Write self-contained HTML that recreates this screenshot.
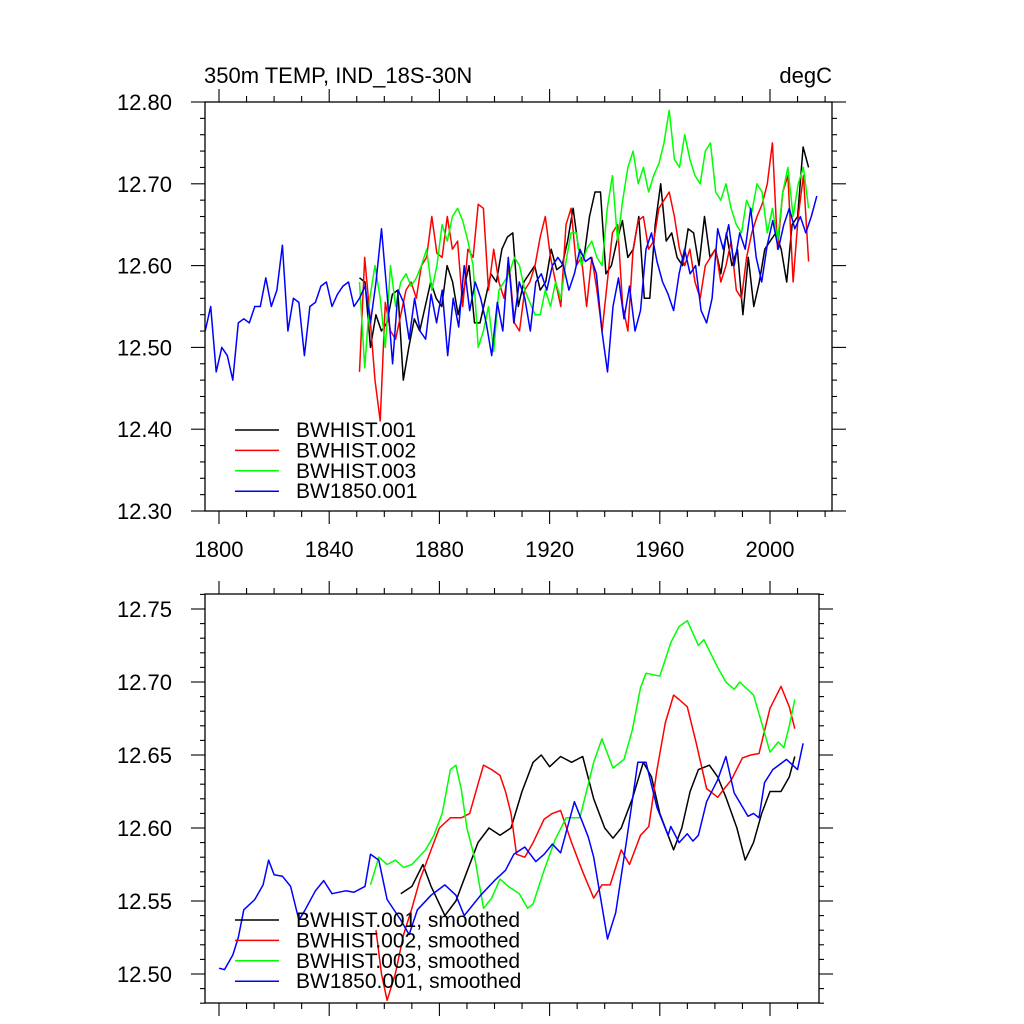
<!DOCTYPE html>
<html><head><meta charset="utf-8"><style>
body{margin:0;background:#fff}
svg{display:block;font-family:"Liberation Sans",Arial,sans-serif}
</style></head><body>
<svg id="chart" width="1024" height="1024" viewBox="0 0 1024 1024" xmlns="http://www.w3.org/2000/svg">
<text x="204" y="83" font-size="22">350m TEMP, IND_18S-30N</text>
<text x="832" y="83" font-size="22" text-anchor="end">degC</text>
</svg>
<script>
const NS='http://www.w3.org/2000/svg';
const svg=document.getElementById('chart');

const xTickYears=[1800,1840,1880,1920,1960,2000];
const topYTicks=[12.30,12.40,12.50,12.60,12.70,12.80];
const botYTicks=[12.50,12.55,12.60,12.65,12.70,12.75];
const seriesNames=['BWHIST.001','BWHIST.002','BWHIST.003','BW1850.001'];
const smoothNames=['BWHIST.001, smoothed','BWHIST.002, smoothed','BWHIST.003, smoothed','BW1850.001, smoothed'];
const colors=['#000000','#ff0000','#00ff00','#0000ff'];

const blueStart=1795, blueEnd=2017;
const blueAnnual=[12.52,12.55,12.47,12.50,12.49,12.46,12.53,12.535,12.53,12.55,12.55,12.585,12.55,12.57,12.625,12.52,12.56,12.555,12.49,12.55,12.555,12.575,12.58,12.55,12.565,12.575,12.58,12.55,12.56,12.575,12.53,12.58,12.645,12.565,12.48,12.57,12.555,12.51,12.56,12.52,12.51,12.565,12.53,12.57,12.49,12.56,12.525,12.60,12.545,12.58,12.56,12.53,12.49,12.555,12.52,12.61,12.53,12.58,12.56,12.52,12.58,12.59,12.57,12.60,12.61,12.60,12.57,12.59,12.62,12.605,12.61,12.59,12.52,12.47,12.55,12.585,12.535,12.575,12.52,12.545,12.62,12.64,12.605,12.58,12.565,12.545,12.59,12.62,12.59,12.60,12.545,12.53,12.56,12.645,12.62,12.65,12.60,12.64,12.62,12.67,12.61,12.58,12.625,12.655,12.62,12.65,12.67,12.645,12.66,12.64,12.66,12.685];
const blackStart=1851, blackEnd=2014;
const blackAnnual=[12.585,12.58,12.50,12.54,12.52,12.53,12.565,12.57,12.46,12.50,12.535,12.52,12.55,12.58,12.56,12.55,12.60,12.58,12.54,12.57,12.60,12.53,12.53,12.56,12.59,12.58,12.62,12.635,12.64,12.55,12.58,12.59,12.60,12.57,12.58,12.62,12.595,12.60,12.63,12.67,12.62,12.61,12.66,12.69,12.69,12.59,12.60,12.63,12.655,12.61,12.62,12.66,12.56,12.56,12.65,12.70,12.63,12.64,12.61,12.60,12.645,12.64,12.60,12.66,12.61,12.62,12.59,12.64,12.60,12.62,12.54,12.61,12.55,12.58,12.62,12.63,12.64,12.62,12.58,12.65,12.66,12.745,12.72];
const redStart=1851, redEnd=2014;
const redAnnual=[12.47,12.61,12.54,12.46,12.41,12.555,12.52,12.51,12.54,12.57,12.58,12.56,12.60,12.61,12.66,12.615,12.61,12.66,12.62,12.63,12.55,12.62,12.61,12.675,12.67,12.57,12.62,12.58,12.56,12.60,12.53,12.52,12.57,12.58,12.60,12.635,12.66,12.61,12.58,12.55,12.65,12.67,12.60,12.61,12.55,12.61,12.57,12.52,12.58,12.64,12.65,12.55,12.52,12.62,12.655,12.66,12.62,12.63,12.67,12.68,12.69,12.66,12.62,12.60,12.62,12.58,12.56,12.60,12.61,12.62,12.58,12.60,12.63,12.57,12.56,12.61,12.64,12.66,12.675,12.70,12.75,12.62,12.69,12.71,12.58,12.66,12.71,12.605];
const greenStart=1851, greenEnd=2014;
const greenAnnual=[12.58,12.475,12.56,12.60,12.56,12.50,12.60,12.55,12.58,12.59,12.575,12.585,12.60,12.62,12.57,12.60,12.65,12.63,12.66,12.67,12.655,12.63,12.60,12.50,12.52,12.55,12.495,12.57,12.58,12.59,12.61,12.60,12.57,12.555,12.54,12.54,12.57,12.55,12.58,12.56,12.605,12.64,12.64,12.60,12.62,12.63,12.61,12.60,12.67,12.71,12.63,12.68,12.72,12.74,12.70,12.72,12.69,12.71,12.725,12.75,12.79,12.73,12.72,12.76,12.73,12.71,12.70,12.74,12.75,12.69,12.68,12.70,12.67,12.65,12.64,12.68,12.665,12.70,12.69,12.64,12.67,12.63,12.69,12.72,12.66,12.70,12.72,12.67];

const blackSmYears=[1866,1870,1874,1877,1882,1886,1890,1894,1898,1902,1906,1910,1914,1917,1920,1924,1928,1932,1936,1940,1943,1946,1950,1954,1957,1960,1963,1965,1968,1971,1974,1978,1981,1984,1988,1991,1994,1997,2000,2004,2007,2009];
const blackSm=[12.555,12.56,12.575,12.56,12.54,12.55,12.57,12.59,12.60,12.595,12.60,12.625,12.645,12.65,12.642,12.649,12.645,12.649,12.62,12.60,12.593,12.60,12.62,12.645,12.635,12.61,12.595,12.585,12.60,12.625,12.64,12.643,12.635,12.621,12.60,12.578,12.59,12.61,12.625,12.625,12.635,12.649];
const redSmYears=[1857,1859,1861,1864,1867,1870,1873,1877,1880,1884,1888,1891,1894,1896,1899,1902,1904,1906,1908,1911,1914,1918,1921,1924,1928,1932,1936,1939,1942,1946,1949,1953,1956,1959,1962,1965,1967,1970,1973,1977,1981,1983,1986,1990,1993,1996,2000,2004,2007,2009];
const redSm=[12.53,12.50,12.482,12.50,12.527,12.545,12.565,12.585,12.60,12.607,12.607,12.61,12.63,12.643,12.64,12.636,12.625,12.61,12.582,12.58,12.59,12.606,12.61,12.612,12.59,12.57,12.552,12.561,12.561,12.585,12.575,12.595,12.601,12.64,12.672,12.691,12.688,12.683,12.66,12.627,12.621,12.626,12.633,12.648,12.65,12.651,12.682,12.697,12.683,12.668];
const greenSmYears=[1855,1858,1861,1864,1867,1870,1875,1878,1881,1884,1886,1888,1890,1893,1896,1899,1902,1905,1909,1912,1914,1918,1922,1926,1931,1936,1939,1943,1947,1950,1953,1955,1960,1964,1967,1970,1974,1976,1981,1984,1987,1989,1994,1997,2000,2003,2005,2007,2009];
const greenSm=[12.561,12.58,12.575,12.578,12.573,12.575,12.585,12.595,12.61,12.64,12.643,12.626,12.60,12.578,12.545,12.552,12.565,12.56,12.555,12.545,12.548,12.571,12.592,12.607,12.607,12.645,12.661,12.641,12.647,12.667,12.696,12.706,12.704,12.727,12.738,12.742,12.725,12.729,12.71,12.70,12.695,12.70,12.691,12.672,12.652,12.659,12.655,12.67,12.688];
const blueSmYears=[1800,1802,1805,1807,1809,1813,1816,1818,1820,1823,1826,1829,1831,1835,1838,1841,1846,1849,1853,1855,1858,1861,1866,1869,1872,1877,1882,1886,1889,1895,1900,1904,1907,1911,1915,1918,1921,1924,1929,1934,1936,1941,1944,1948,1952,1955,1959,1963,1964,1967,1970,1972,1974,1977,1981,1984,1987,1992,1994,1996,1998,2001,2006,2010,2012];
const blueSm=[12.504,12.503,12.513,12.525,12.544,12.551,12.561,12.578,12.568,12.567,12.56,12.537,12.543,12.557,12.564,12.555,12.557,12.556,12.56,12.582,12.578,12.551,12.537,12.527,12.544,12.554,12.561,12.554,12.54,12.554,12.564,12.571,12.582,12.587,12.577,12.582,12.589,12.583,12.618,12.594,12.58,12.524,12.542,12.592,12.645,12.645,12.614,12.595,12.601,12.59,12.596,12.591,12.595,12.618,12.633,12.649,12.624,12.608,12.61,12.607,12.631,12.64,12.647,12.64,12.658];

function el(tag,attrs,parent){const e=document.createElementNS(NS,tag);for(const k in attrs)e.setAttribute(k,attrs[k]);(parent||svg).appendChild(e);return e;}

function panel(cfg){
  const g=el('g',{});
  
  
  const X=yr=>219+(yr-1800)*2.755;
  const Y=v=>cfg.y0+(v-cfg.v0)*(cfg.y1-cfg.y0)/(cfg.v1-cfg.v0);
  const defs=el('defs',{},g);
  const cp=el('clipPath',{id:cfg.name+'-clip'},defs);
  el('rect',{x:cfg.L,y:cfg.T,width:cfg.R-cfg.L,height:cfg.B-cfg.T},cp);
  cfg.series.forEach((s,i)=>{
    const pts=s.vals.map((v,j)=>X(s.years?s.years[j]:s.start+j*(s.end-s.start)/(s.vals.length-1)).toFixed(1)+','+Y(v).toFixed(1)).join(' ');
    const p=el('polyline',{points:pts,fill:'none',stroke:colors[i],'stroke-width':1.5,'stroke-linejoin':'round','clip-path':'url(#'+cfg.name+'-clip)'},g);
    
    
  });
  const fr=el('rect',{x:cfg.L,y:cfg.T,width:cfg.R-cfg.L,height:cfg.B-cfg.T,fill:'none',stroke:'#000','stroke-width':1.3},g);
  
  
  for(let yr=1790;yr<=2030;yr+=10){
    const x=X(yr); if(x<cfg.L-0.5||x>cfg.R+0.5) continue;
    const major=yr%40===0; const len=major?13:6;
    el('line',{x1:x,y1:cfg.B,x2:x,y2:cfg.B+len,stroke:'#000','stroke-width':1.1},g);
    el('line',{x1:x,y1:cfg.T,x2:x,y2:cfg.T-len,stroke:'#000','stroke-width':1.1},g);
  }
  if(cfg.xlabels){xTickYears.forEach(yr=>{const t=el('text',{x:X(yr),y:cfg.B+46,'font-size':22,'text-anchor':'middle'},g);t.textContent=yr;});}
  const n=Math.round((cfg.v1-cfg.v0)/cfg.minor);
  for(let k=-2;k<=n+2;k++){
    const v=cfg.v0+k*cfg.minor; const y=Y(v); if(y<cfg.T-0.5||y>cfg.B+0.5) continue;
    const major=cfg.ticks.some(t=>Math.abs(t-v)<1e-6); const len=major?14:5;
    el('line',{x1:cfg.L,y1:y,x2:cfg.L-len,y2:y,stroke:'#000','stroke-width':1.1},g);
    el('line',{x1:cfg.R,y1:y,x2:cfg.R+len,y2:y,stroke:'#000','stroke-width':1.1},g);
  }
  cfg.ticks.forEach(v=>{const t=el('text',{x:cfg.L-33,y:Y(v)+8,'font-size':22,'text-anchor':'end'},g);t.textContent=v.toFixed(2);});
  cfg.legend.forEach((lab,i)=>{
    const y=cfg.legY+i*20.4;
    const lg=el('g',{},g);
    
    
    el('line',{x1:235,y1:y,x2:279,y2:y,stroke:colors[i],'stroke-width':1.5},lg);
    const t=el('text',{x:296,y:y+7,'font-size':21},lg);t.textContent=lab;
  });
}

panel({name:'top-panel',L:205,R:832,T:102,B:511,y0:511,y1:102,v0:12.30,v1:12.80,minor:0.02,ticks:topYTicks,xlabels:true,legY:430,legend:seriesNames,
  series:[{label:'bwhist-001',start:blackStart,end:blackEnd,vals:blackAnnual},{label:'bwhist-002',start:redStart,end:redEnd,vals:redAnnual},{label:'bwhist-003',start:greenStart,end:greenEnd,vals:greenAnnual},{label:'bw1850-001',start:blueStart,end:blueEnd,vals:blueAnnual}]});
panel({name:'bottom-panel',L:205,R:819,T:594,B:1003,y0:974,y1:609,v0:12.50,v1:12.75,minor:0.01,ticks:botYTicks,xlabels:false,legY:920,legend:smoothNames,
  series:[{label:'bwhist-001-smoothed',years:blackSmYears,vals:blackSm},{label:'bwhist-002-smoothed',years:redSmYears,vals:redSm},{label:'bwhist-003-smoothed',years:greenSmYears,vals:greenSm},{label:'bw1850-001-smoothed',years:blueSmYears,vals:blueSm}]});
</script>
</body></html>
